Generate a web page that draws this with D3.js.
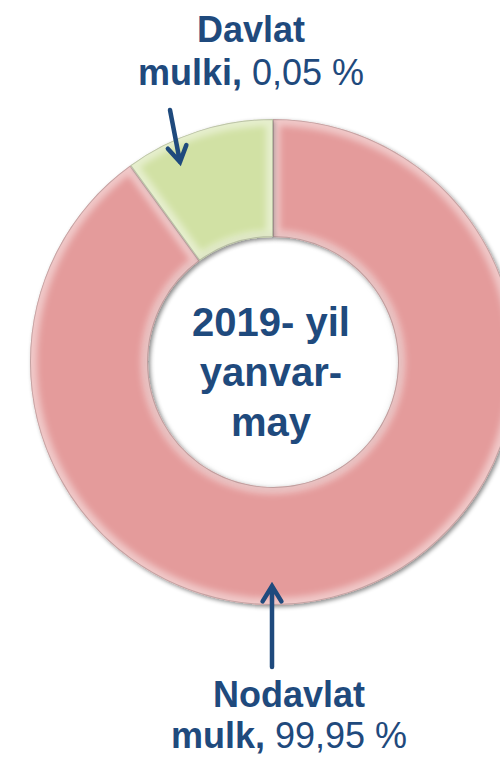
<!DOCTYPE html>
<html>
<head>
<meta charset="utf-8">
<script src="https://cdn.jsdelivr.net/npm/d3@7"></script>
<style>
  html, body { margin: 0; padding: 0; background: #fff; }
  svg { display: block; }
</style>
</head>
<body>
<svg id="chart" width="500" height="757"></svg>
<script>
// ---- data ----
const categories = ["Nodavlat mulk", "Davlat mulki"];
const sliceShares = [90, 10];            // drawn angular share
const labelValues = ["99,95 %", "0,05 %"];
const labelBold = [["Nodavlat", "mulk,"], ["Davlat", "mulki,"]];
const centerLines = ["2019- yil", "yanvar-", "may"];
const colors = ["#e49b9b", "#d1e1a4"];

// ---- layout ----
const W = 500, H = 757;
const cx = 273, cy = 362, rOuter = 243, rInner = 125;
const textColor = "#1f4a7d";
const font = "Arial, 'Liberation Sans', sans-serif";

const svg = d3.select("#chart");
const defs = svg.append("defs");

// drop shadow
const sh = defs.append("filter").attr("id", "shadow").attr("x", "-20%").attr("y", "-20%").attr("width", "140%").attr("height", "140%");
sh.append("feDropShadow").attr("dx", 2).attr("dy", 2).attr("stdDeviation", 2)
  .attr("flood-color", "#000").attr("flood-opacity", 0.45);

const blur = defs.append("filter").attr("id", "soft");
blur.append("feGaussianBlur").attr("stdDeviation", 3);

const pie = d3.pie().sort(null).startAngle(0).endAngle(2 * Math.PI);
const arcs = pie(sliceShares);
const arc = d3.arc().innerRadius(rInner).outerRadius(rOuter);

const g = svg.append("g").attr("transform", `translate(${cx},${cy})`);

arcs.forEach((a, i) => {
  defs.append("clipPath").attr("id", "clip" + i)
    .append("path").attr("d", arc(a));
});

// base fills with shadow
g.selectAll("path.slice").data(arcs).join("path")
  .attr("class", "slice")
  .attr("d", arc)
  .attr("fill", (d, i) => colors[i])
  .attr("filter", "url(#shadow)");

// bevel highlight band
arcs.forEach((a, i) => {
  const cg = g.append("g").attr("clip-path", `url(#clip${i})`);
  cg.append("path").attr("d", arc(a))
    .attr("fill", "none").attr("stroke", "#ffffff").attr("stroke-opacity", 0.45)
    .attr("stroke-width", 14).attr("filter", "url(#soft)");
  cg.append("path").attr("d", arc(a))
    .attr("fill", "none").attr("stroke", "#000").attr("stroke-opacity", 0.18)
    .attr("stroke-width", 2);
});

// inner shadow hole rim
g.append("circle").attr("r", rInner + 1).attr("fill", "none")
  .attr("stroke", "#000").attr("stroke-opacity", 0.12).attr("stroke-width", 2).attr("filter", "url(#soft)");

// center text
const ct = svg.append("text").attr("text-anchor", "middle")
  .attr("font-family", font).attr("font-weight", "bold").attr("font-size", 40)
  .attr("fill", textColor);
const centerY = [336, 386, 436];
centerLines.forEach((t, i) => {
  ct.append("tspan").attr("x", cx - 2).attr("y", centerY[i]).text(t);
});

// labels
function label(x, y1, y2, idx) {
  const t = svg.append("text").attr("text-anchor", "middle")
    .attr("font-family", font).attr("font-size", 36).attr("fill", textColor);
  t.append("tspan").attr("x", x).attr("y", y1).attr("font-weight", "bold").text(labelBold[idx][0]);
  const l2 = t.append("tspan").attr("x", x).attr("y", y2);
  l2.append("tspan").attr("font-weight", "bold").text(labelBold[idx][1]);
  l2.append("tspan").attr("font-weight", "normal").text(" " + labelValues[idx]);
}
label(251, 42, 85, 1);
label(289, 707, 748, 0);

// arrows
function arrow(x1, y1, x2, y2) {
  const ang = Math.atan2(y2 - y1, x2 - x1);
  const hl = 18, ha = 0.55;
  const p = d3.path();
  p.moveTo(x1, y1); p.lineTo(x2, y2);
  p.moveTo(x2 - hl * Math.cos(ang - ha), y2 - hl * Math.sin(ang - ha));
  p.lineTo(x2, y2);
  p.lineTo(x2 - hl * Math.cos(ang + ha), y2 - hl * Math.sin(ang + ha));
  svg.append("path").attr("d", p.toString()).attr("fill", "none")
    .attr("stroke", textColor).attr("stroke-width", 4.5)
    .attr("stroke-linecap", "round").attr("stroke-linejoin", "miter");
}
arrow(170, 110, 180, 162);
arrow(272, 667, 272, 586);
</script>
</body>
</html>
